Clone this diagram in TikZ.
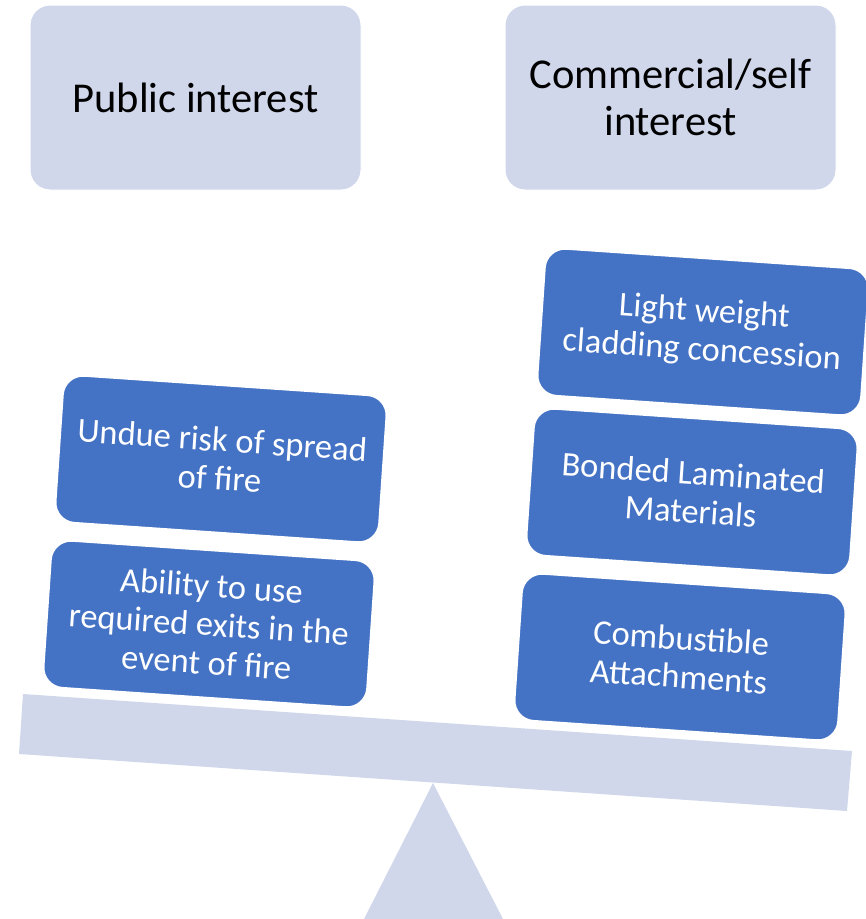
\documentclass[tikz,border=0pt]{standalone}
\usepackage{fontspec}
\setmainfont{Carlito}
\definecolor{lav}{HTML}{D0D7EB}
\definecolor{bluebox}{HTML}{4472C4}
\begin{document}
\begin{tikzpicture}[x=1pt,y=-1pt,
  topbox/.style={fill=lav, draw=white, line width=1pt, rounded corners=20pt,
    minimum width=331pt, minimum height=185pt, inner sep=0pt, align=center,
    font=\fontsize{42.5}{47}\selectfont, text=black},
  item/.style={fill=bluebox, draw=white, line width=1.5pt, rounded corners=20pt,
    minimum width=324pt, minimum height=147pt, inner sep=0pt, align=center,
    font=\fontsize{34.5}{38.5}\selectfont, text=white, rotate=-3.9}]
\useasboundingbox (0,0) rectangle (866,919);
% fulcrum
\fill[lav] (433,783) -- (503,919) -- (364,919) -- cycle;
% beam
\coordinate (btl) at (23,694);
\coordinate (btr) at (852,751);
\coordinate (bbr) at (847,811);
\coordinate (bbl) at (19,754);
\fill[lav] (btl) -- (btr) -- (bbr) -- (bbl) -- cycle;
% headings
\node[topbox] (pub) at (195.5,97.5) {Public interest};
\node[topbox] (com) at (670.5,97.5) {Commercial/self\\interest};
% left pan
\node[item] (undue) at (221,459) {Undue risk of spread\\of fire};
\node[item] (ability) at (209,624) {Ability to use\\required exits in the\\event of fire};
% right pan
\node[item] (light) at (703,332) {Light weight\\cladding concession};
\node[item] (bonded) at (692,492) {Bonded Laminated\\Materials};
\node[item] (comb) at (680,657) {Combustible\\Attachments};
\end{tikzpicture}
\end{document}
